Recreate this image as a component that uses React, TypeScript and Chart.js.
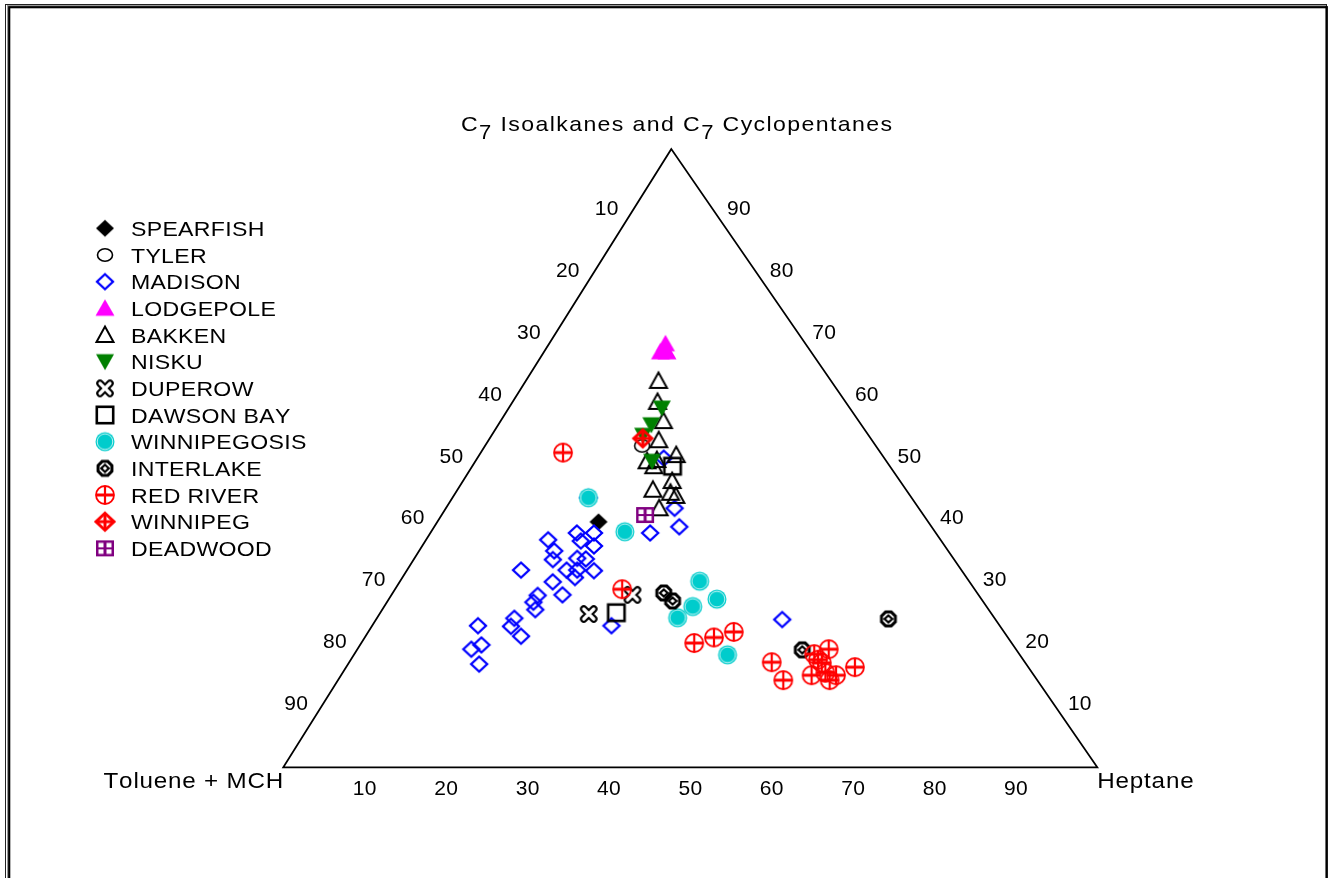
import React, { useEffect, useRef } from 'react';
import { Chart, registerables } from 'chart.js';

Chart.register(...registerables);

// ---- data -----------------------------------------------------------------
// Each point: [C7 isoalkanes + C7 cyclopentanes (%), heptane (%)];
// toluene + MCH is the remainder to 100 %.
const FORMATIONS = [
  'SPEARFISH', 'TYLER', 'MADISON', 'LODGEPOLE', 'BAKKEN', 'NISKU', 'DUPEROW',
  'DAWSON BAY', 'WINNIPEGOSIS', 'INTERLAKE', 'RED RIVER', 'WINNIPEG', 'DEADWOOD',
];

const SPEARFISH = [[39.7, 19.8]];
const TYLER = [[52.0, 19.3]];
const MADISON = [
  [36.8, 15.0], [37.9, 18.0], [37.9, 20.1], [35.8, 21.1], [36.6, 19.1],
  [35.0, 16.6], [33.6, 17.1], [31.9, 14.0], [33.8, 20.0], [33.7, 21.1],
  [31.9, 19.6], [31.9, 20.9], [31.8, 23.0], [30.7, 21.2], [30.0, 18.8],
  [27.9, 21.0], [27.8, 18.0], [26.7, 18.0], [25.5, 18.8], [24.1, 16.9],
  [22.8, 17.1], [21.2, 19.1], [22.9, 13.0], [19.8, 14.9], [19.1, 14.0],
  [16.7, 16.1], [22.9, 29.4], [37.9, 27.0], [38.9, 30.1], [41.9, 28.1],
  [23.9, 49.9], [43.6, 16.7], [50.0, 22.9],
];
const LODGEPOLE = [[68.5, 14.3], [67.2, 14.3], [67.2, 15.1]];
const BAKKEN = [
  [62.5, 16.3], [59.1, 17.8], [56.0, 20.0], [52.9, 20.9], [49.5, 21.1],
  [49.7, 22.2], [50.5, 24.2], [48.7, 22.3], [46.3, 25.7], [44.9, 24.0],
  [44.4, 26.4], [43.9, 27.3], [41.9, 26.2],
];
const NISKU = [[58.1, 18.8], [55.4, 18.8], [53.7, 18.6], [49.5, 21.7]];
const DUPEROW = [[24.8, 25.7], [27.9, 29.6]];
const DAWSON_BAY = [[48.7, 24.6], [25.0, 29.0]];
const WINNIPEGOSIS = [
  [43.6, 16.7], [38.1, 23.8], [30.1, 36.8], [27.2, 40.3], [26.0, 37.9],
  [24.2, 36.9], [18.2, 45.9],
];
const INTERLAKE = [[28.2, 33.3], [26.9, 35.0], [24.0, 62.9], [19.0, 54.7]];
const RED_RIVER = [
  [50.9, 10.1], [28.8, 27.9], [20.1, 40.9], [21.0, 42.9], [21.9, 44.9],
  [17.0, 51.9], [14.1, 54.7], [18.3, 56.5], [19.1, 57.9], [17.4, 57.4],
  [16.9, 58.1], [14.9, 57.8], [15.3, 59.3], [14.9, 60.8], [14.1, 60.4],
  [16.2, 62.5],
];
const WINNIPEG = [[53.2, 18.8]];
const DEADWOOD = [[40.8, 25.0]];

const SERIES = [
  SPEARFISH, TYLER, MADISON, LODGEPOLE, BAKKEN, NISKU, DUPEROW,
  DAWSON_BAY, WINNIPEGOSIS, INTERLAKE, RED_RIVER, WINNIPEG, DEADWOOD,
];

const BOTTOM_TICKS = [10, 20, 30, 40, 50, 60, 70, 80, 90]; // heptane
const LEFT_TICKS = [10, 20, 30, 40, 50, 60, 70, 80, 90]; // toluene + MCH
const RIGHT_TICKS = [90, 80, 70, 60, 50, 40, 30, 20, 10]; // isoalkanes

const TITLE_RUNS = [
  { text: 'C', sub: false },
  { text: '7', sub: true },
  { text: ' Isoalkanes and ', sub: false },
  { text: 'C', sub: false },
  { text: '7', sub: true },
  { text: ' Cyclopentanes', sub: false },
];
const LEFT_VERTEX = 'Toluene + MCH';
const RIGHT_VERTEX = 'Heptane';

// ---- layout / style --------------------------------------------------------
const W = 1328;
const H = 878;
const SKEW = 0.4767; // horizontal position of the apex along the base
const X_MIN = -34.8;
const X_MAX = 128.34;
const Y_MIN = -17.9;
const Y_MAX = 124.1;
const FONT = '"Liberation Sans", Arial, Helvetica, sans-serif';

const toXY = ([iso, hep]: number[]) => ({ x: hep + SKEW * iso, y: iso });

// ---- markers ---------------------------------------------------------------
function makeMarker(kind: string): HTMLCanvasElement {
  const c = document.createElement('canvas');
  c.width = 26;
  c.height = 26;
  const g = c.getContext('2d')!;
  g.translate(13, 13);
  g.lineJoin = 'miter';
  const poly = (pts: number[][]) => {
    g.beginPath();
    g.moveTo(pts[0][0], pts[0][1]);
    for (let i = 1; i < pts.length; i++) g.lineTo(pts[i][0], pts[i][1]);
    g.closePath();
  };
  switch (kind) {
    case 'SPEARFISH':
      poly([[0, -8.5], [9, 0], [0, 8.5], [-9, 0]]);
      g.fillStyle = '#000';
      g.fill();
      break;
    case 'TYLER':
      g.beginPath();
      g.ellipse(0, 0, 7.5, 6.2, 0, 0, Math.PI * 2);
      g.strokeStyle = '#000';
      g.lineWidth = 1.6;
      g.stroke();
      break;
    case 'MADISON':
      poly([[0, -7.5], [8, 0], [0, 7.5], [-8, 0]]);
      g.strokeStyle = '#0000FF';
      g.lineWidth = 2.3;
      g.stroke();
      break;
    case 'LODGEPOLE':
      poly([[-9.5, 7.5], [9.5, 7.5], [0, -9]]);
      g.fillStyle = '#FF00FF';
      g.fill();
      break;
    case 'BAKKEN':
      poly([[-8.5, 7], [8.5, 7], [0, -8.5]]);
      g.strokeStyle = '#000';
      g.lineWidth = 2;
      g.stroke();
      break;
    case 'NISKU':
      poly([[-9, -7.5], [9, -7.5], [0, 8.5]]);
      g.fillStyle = '#008000';
      g.fill();
      break;
    case 'DUPEROW':
      g.lineCap = 'round';
      g.strokeStyle = '#000';
      g.lineWidth = 7.5;
      g.beginPath();
      g.moveTo(-5, -5); g.lineTo(5, 5);
      g.moveTo(5, -5); g.lineTo(-5, 5);
      g.stroke();
      g.strokeStyle = '#fff';
      g.lineWidth = 3.2;
      g.beginPath();
      g.moveTo(-5, -5); g.lineTo(5, 5);
      g.moveTo(5, -5); g.lineTo(-5, 5);
      g.stroke();
      break;
    case 'DAWSON BAY':
      g.strokeStyle = '#000';
      g.lineWidth = 2.6;
      g.strokeRect(-8.2, -8.2, 16.4, 16.4);
      break;
    case 'WINNIPEGOSIS':
      g.beginPath();
      g.arc(0, 0, 9.5, 0, Math.PI * 2);
      g.fillStyle = '#00CCCC';
      g.fill();
      g.beginPath();
      g.arc(0, 0, 7.8, 0, Math.PI * 2);
      g.strokeStyle = 'rgba(255,255,255,0.75)';
      g.lineWidth = 1;
      g.stroke();
      break;
    case 'INTERLAKE': {
      const oct: number[][] = [];
      for (let i = 0; i < 8; i++) {
        const a = Math.PI / 8 + (i * Math.PI) / 4;
        oct.push([7.5 * Math.cos(a), 7.5 * Math.sin(a)]);
      }
      poly(oct);
      g.strokeStyle = '#000';
      g.lineWidth = 3;
      g.stroke();
      poly([[0, -3.5], [3.8, 0], [0, 3.5], [-3.8, 0]]);
      g.lineWidth = 2.2;
      g.stroke();
      break;
    }
    case 'RED RIVER':
      g.beginPath();
      g.arc(0, 0, 9, 0, Math.PI * 2);
      g.strokeStyle = '#FF0000';
      g.lineWidth = 1.8;
      g.stroke();
      g.lineWidth = 3;
      g.beginPath();
      g.moveTo(-9, 0); g.lineTo(9, 0);
      g.stroke();
      g.lineWidth = 2.2;
      g.beginPath();
      g.moveTo(0, -9); g.lineTo(0, 9);
      g.stroke();
      break;
    case 'WINNIPEG':
      poly([[0, -8.5], [9, 0], [0, 8.5], [-9, 0]]);
      g.strokeStyle = '#FF0000';
      g.lineWidth = 3;
      g.stroke();
      g.beginPath();
      g.moveTo(-8, 0); g.lineTo(8, 0);
      g.moveTo(0, -8); g.lineTo(0, 8);
      g.stroke();
      break;
    case 'DEADWOOD':
      g.fillStyle = '#800080';
      g.fillRect(-9, -8, 18, 16);
      g.fillStyle = '#fff';
      g.fillRect(-6.5, -5.5, 5, 4.5);
      g.fillRect(1.5, -5.5, 5, 4.5);
      g.fillRect(-6.5, 1, 5, 4.5);
      g.fillRect(1.5, 1, 5, 4.5);
      break;
  }
  return c;
}

// ---- text helpers ------------------------------------------------------------
// width of text drawn with a horizontal stretch and extra letter spacing
function textWidth(ctx: CanvasRenderingContext2D, text: string, stretch: number, sp: number) {
  let w = 0;
  for (const ch of text) w += ctx.measureText(ch).width * stretch + sp;
  return w - sp;
}
function drawText(
  ctx: CanvasRenderingContext2D, text: string, x: number, y: number, stretch: number, sp: number,
) {
  let cx = x;
  for (const ch of text) {
    ctx.save();
    ctx.translate(cx, y);
    ctx.scale(stretch, 1);
    ctx.fillText(ch, 0, 0);
    ctx.restore();
    cx += ctx.measureText(ch).width * stretch + sp;
  }
  return cx;
}

export default function App() {
  const ref = useRef<HTMLCanvasElement | null>(null);

  useEffect(() => {
    if (!ref.current) return;
    const markers = FORMATIONS.map((f) => makeMarker(f));

    const decor = {
      id: 'ternaryDecor',
      beforeDraw(chart: any) {
        const ctx: CanvasRenderingContext2D = chart.ctx;
        ctx.save();
        ctx.fillStyle = '#fff';
        ctx.fillRect(0, 0, W, H);
        // frame
        ctx.strokeStyle = '#222';
        ctx.lineWidth = 1;
        ctx.strokeRect(5.5, 4.5, 1321, 1000);
        ctx.strokeStyle = '#999';
        ctx.strokeRect(7.5, 5.5, 1318, 1000);
        ctx.strokeStyle = '#000';
        ctx.lineWidth = 2.2;
        ctx.strokeRect(9.2, 7.2, 1317.6, 1000);
        ctx.restore();
      },
      beforeDatasetsDraw(chart: any) {
        const ctx: CanvasRenderingContext2D = chart.ctx;
        const sx = chart.scales.x;
        const sy = chart.scales.y;
        const P = (iso: number, hep: number) => {
          const p = toXY([iso, hep]);
          return [sx.getPixelForValue(p.x), sy.getPixelForValue(p.y)];
        };
        ctx.save();
        // triangle
        const a = P(100, 0);
        const bl = P(0, 0);
        const br = P(0, 100);
        ctx.beginPath();
        ctx.moveTo(a[0], a[1]);
        ctx.lineTo(bl[0], bl[1]);
        ctx.lineTo(br[0], br[1]);
        ctx.closePath();
        ctx.strokeStyle = '#000';
        ctx.lineWidth = 1.8;
        ctx.lineJoin = 'miter';
        ctx.stroke();

        ctx.fillStyle = '#000';
        ctx.textBaseline = 'alphabetic';
        ctx.textAlign = 'left';
        // tick labels
        ctx.font = `21px ${FONT}`;
        const label = (txt: string, cx: number, cy: number) => {
          const w = textWidth(ctx, txt, 1, 0.3);
          drawText(ctx, txt, cx - w / 2, cy + 7.5, 1, 0.3);
        };
        BOTTOM_TICKS.forEach((v) => {
          const p = P(0, v);
          label(String(v), p[0], p[1] + 20);
        });
        LEFT_TICKS.forEach((v) => {
          const p = P(100 - v, 0);
          label(String(v), p[0] - 26, p[1] - 3);
        });
        RIGHT_TICKS.forEach((v) => {
          const p = P(v, 100 - v);
          label(String(v), p[0] + 25, p[1] - 3);
        });

        // vertex labels
        ctx.font = `22px ${FONT}`;
        const lw = textWidth(ctx, LEFT_VERTEX, 1.1, 0.8);
        drawText(ctx, LEFT_VERTEX, bl[0] - lw, bl[1] + 21, 1.1, 0.8);
        drawText(ctx, RIGHT_VERTEX, br[0], br[1] + 21, 1.1, 0.8);

        // title
        const runs = TITLE_RUNS.map((r) => ({ ...r, font: r.sub ? `20px ${FONT}` : `21px ${FONT}` }));
        let nat = 0;
        let nChars = 0;
        runs.forEach((r) => {
          ctx.font = r.font;
          nat += textWidth(ctx, r.text, 1.1, 0);
          nChars += [...r.text].length;
        });
        const tLeft = 461;
        const tRight = 892;
        const tsp = (tRight - tLeft - nat) / (nChars - 1);
        let tx = tLeft;
        runs.forEach((r) => {
          ctx.font = r.font;
          tx = drawText(ctx, r.text, tx, r.sub ? 139 : 131, 1.1, tsp);
        });

        // legend
        ctx.font = `21px ${FONT}`;
        FORMATIONS.forEach((f, i) => {
          const cy = 228.3 + i * 26.67;
          const m = markers[i];
          ctx.drawImage(m, 105 - m.width / 2, cy - m.height / 2);
          drawText(ctx, f, 131, cy + 7.6, 1.1, 0.3);
        });
        ctx.restore();
      },
    };

    const chart = new Chart(ref.current, {
      type: 'scatter',
      data: {
        datasets: SERIES.map((pts, i) => ({
          label: FORMATIONS[i],
          data: pts.map(toXY),
          pointStyle: markers[i] as any,
          pointRadius: 9,
          pointHoverRadius: 9,
          showLine: false,
          order: -i,
        })),
      },
      options: {
        animation: false,
        responsive: false,
        devicePixelRatio: 1,
        layout: { padding: 0, autoPadding: false },
        events: [],
        plugins: {
          legend: { display: false },
          title: { display: false },
          tooltip: { enabled: false },
        },
        scales: {
          x: { type: 'linear', min: X_MIN, max: X_MAX, display: false },
          y: { type: 'linear', min: Y_MIN, max: Y_MAX, display: false },
        },
      },
      plugins: [decor],
    });
    return () => chart.destroy();
  }, []);

  return (
    <div style={{ position: 'fixed', left: 0, top: 0, width: W, height: H, background: '#fff' }}>
      <canvas ref={ref} width={W} height={H} style={{ display: 'block', width: W, height: H }} />
    </div>
  );
}
